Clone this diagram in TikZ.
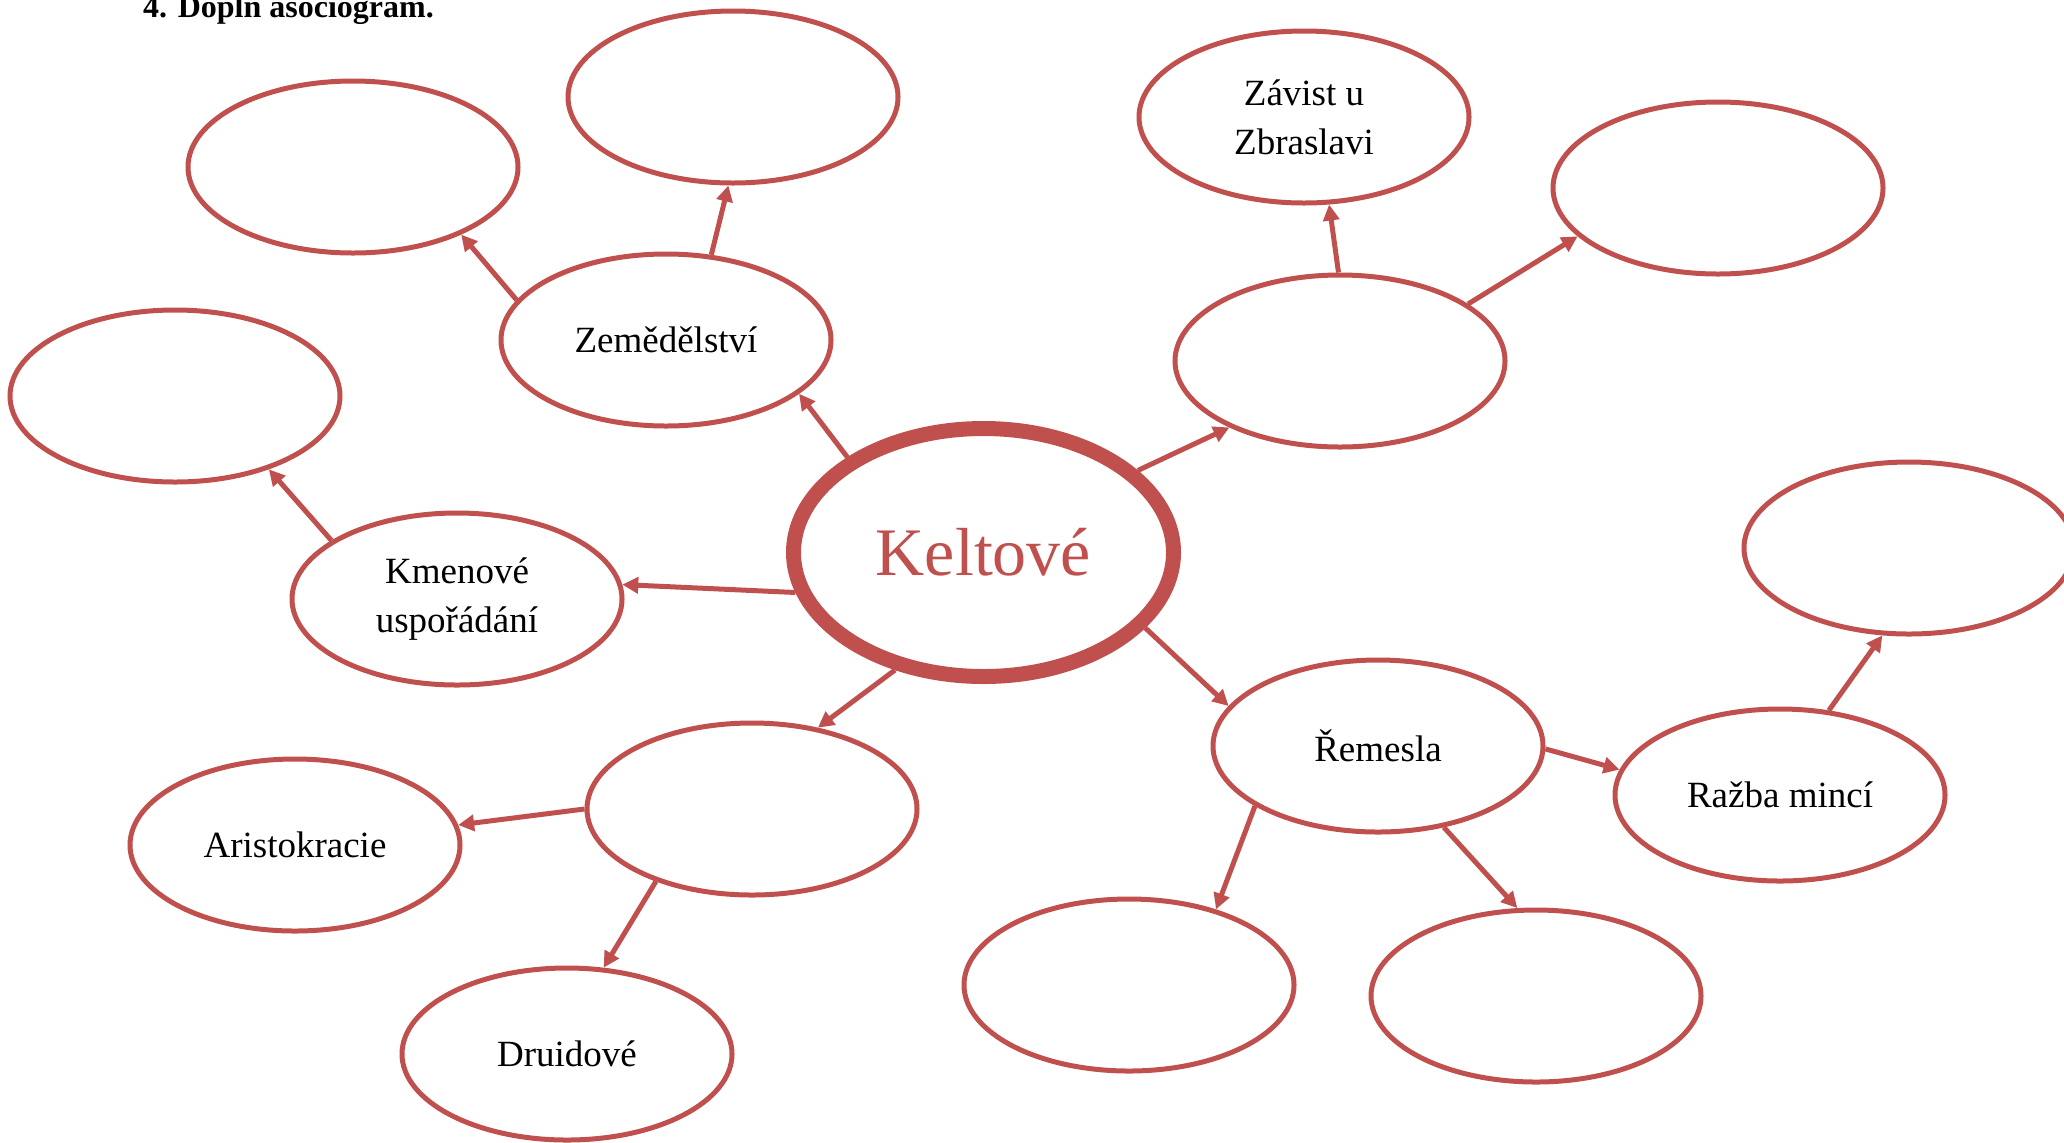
\documentclass[tikz,border=0pt]{standalone}
\usepackage{fontspec}
\setmainfont{Liberation Serif}
\usetikzlibrary{shapes.geometric, arrows.meta}
\definecolor{celtred}{HTML}{C0504D}
\tikzset{
  bubble/.style={ellipse, draw=celtred, line width=2.5pt, inner sep=0pt,
    minimum width=165pt, minimum height=86pt, align=center,
    font=\fontsize{18.5}{24.5}\selectfont},
  hub/.style={ellipse, draw=celtred, line width=7.5pt, inner sep=0pt,
    minimum width=190pt, minimum height=124pt, text=celtred,
    font=\fontsize{34}{40}\selectfont}
}
\begin{document}
\begin{tikzpicture}[x=0.5pt,y=-0.5pt,>={Triangle[length=8pt,width=8pt]},line width=2.5pt]
    \useasboundingbox (0,0) rectangle (2064,1142);
    \node[anchor=base west, font=\bfseries\fontsize{16}{19}\selectfont] (title) at (134,17) {4. Doplň asociogram.};

    \node[hub] (kelt) at (983.5,552.5) {Keltové};

    \node[bubble] (zem) at (666,340) {Zemědělství};
    \node[bubble] (zemA) at (353,167) {};
    \node[bubble] (zemB) at (733,97) {};
    \node[bubble] (kmen) at (457,599) {Kmenové\\uspořádání};
    \node[bubble] (kmenA) at (175,396) {};
    \node[bubble] (sidl) at (1340,361) {};
    \node[bubble] (zav) at (1304,117) {Závist u\\Zbraslavi};
    \node[bubble] (sidlA) at (1718,188) {};
    \node[bubble] (rem) at (1378,746) {Řemesla};
    \node[bubble] (razba) at (1780,795) {Ražba mincí};
    \node[bubble] (razbaA) at (1909,548) {};
    \node[bubble] (remA) at (1129,985) {};
    \node[bubble] (remB) at (1536,996) {};
    \node[bubble] (spol) at (752,809) {};
    \node[bubble] (arist) at (295,845) {Aristokracie};
    \node[bubble] (druid) at (567,1054) {Druidové};

    \path[->, color=celtred]
        (kelt.145) edge (zem.-22)
        (kelt.192) edge (kmen.5)
        (kelt.28) edge (sidl.211)
        (kelt.-25) edge (rem.165)
        (kelt.233) edge (spol.51)
        (zem.165) edge (zemA.-32)
        (zem.62) edge (zemB.-93)
        (kmen.155) edge (kmenA.-38)
        (sidl.91) edge (zav.-74)
        (sidl.24) edge (sidlA.199)
        (rem.-1) edge (razba.171)
        (razba.60) edge (razbaA.-107)
        (rem.206) edge (remA.41)
        (rem.-51) edge (remB.102)
        (spol.180) edge (arist.7)
        (spol.-143) edge (druid.67);
\end{tikzpicture}
\end{document}
